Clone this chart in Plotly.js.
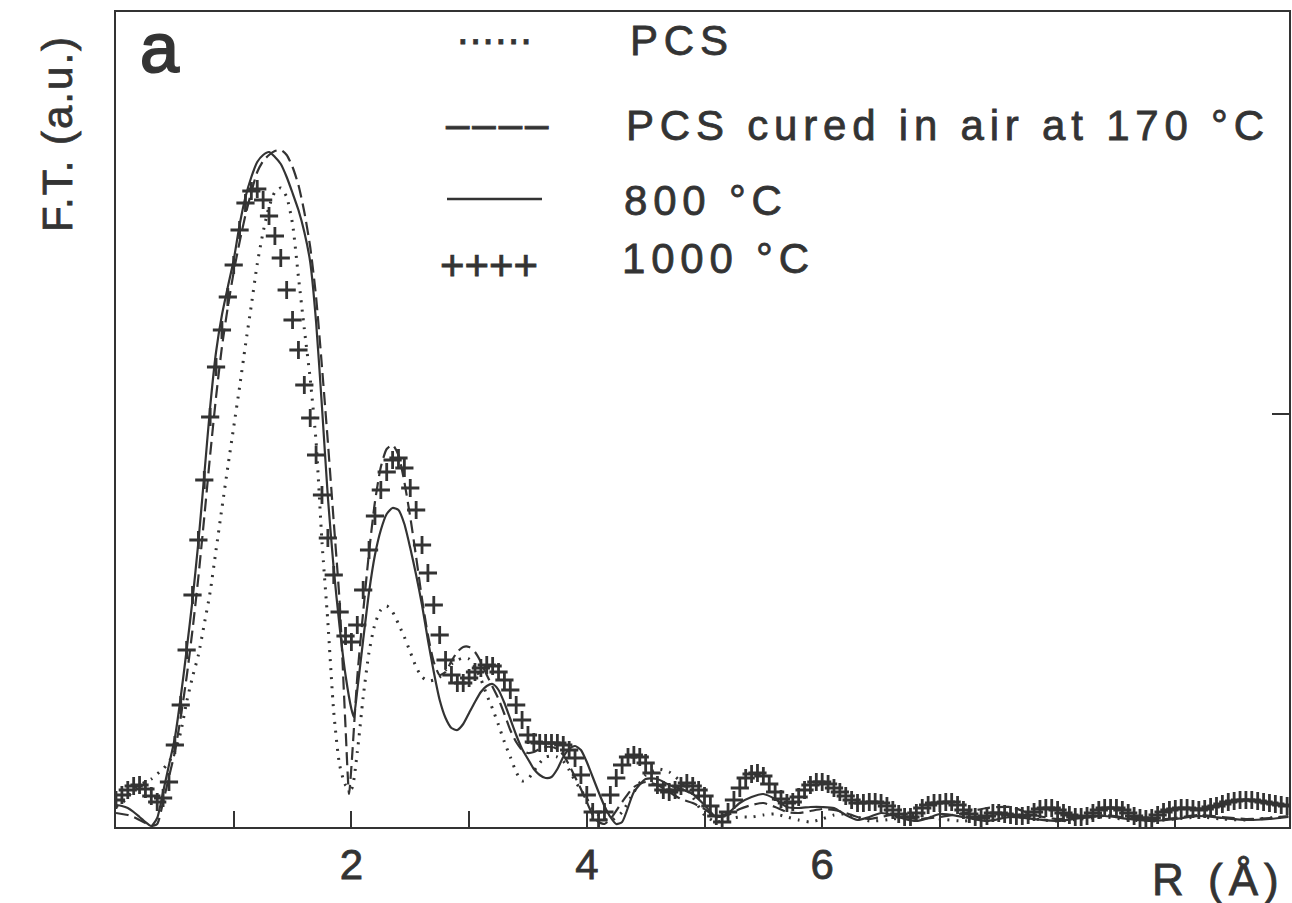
<!DOCTYPE html>
<html><head><meta charset="utf-8">
<script src="https://cdn.plot.ly/plotly-3.0.1.min.js"></script>
<style>
html,body{margin:0;padding:0;background:#fff;}
#chart{width:1292px;height:903px;}
.annotation-text, .xtick text{stroke:#353535; stroke-width:0.8px;}
.annotation[data-index="0"] .annotation-text{stroke-width:2px;}
.annotation[data-index="1"] .annotation-text,
.annotation[data-index="2"] .annotation-text,
.annotation[data-index="3"] .annotation-text,
.annotation[data-index="4"] .annotation-text{letter-spacing:5.8px;}
.annotation[data-index="5"] .annotation-text{letter-spacing:1px;}
.annotation[data-index="6"] .annotation-text{letter-spacing:3px;}
.annotation[data-index="8"] .annotation-text{letter-spacing:2px;}
.annotation[data-index="9"] .annotation-text{letter-spacing:6px;}
</style>
</head><body><div id="chart"></div><script>
// ---- data (R in Angstrom, F.T. magnitude in arbitrary units) ----
const R_PCS = [0,0.05,0.1,0.15,0.2,0.25,0.3,0.35,0.4,0.45,0.5,0.55,0.6,0.65,0.7,0.75,0.8,0.85,0.9,0.95,
 1.0,1.05,1.1,1.15,1.2,1.25,1.3,1.35,1.4,1.45,1.5,1.55,1.6,1.65,1.7,1.75,1.8,1.85,1.9,1.95,
 2.0,2.05,2.1,2.15,2.2,2.25,2.3,2.35,2.4,2.45,2.5,2.55,2.6,2.65,2.7,2.75,2.8,2.85,2.9,2.95,
 3.0,3.05,3.1,3.15,3.2,3.25,3.3,3.35,3.4,3.45,3.5,3.55,3.6,3.65,3.7,3.75,3.8,3.85,3.9,3.95,
 4.0,4.05,4.1,4.15,4.2,4.3,4.4,4.5,4.6,4.7,4.8,4.9,5.0,5.1,5.2,5.3,5.4,5.5,5.6,5.7,5.8,5.9,
 6.0,6.1,6.2,6.3,6.4,6.6,6.8,7.0,7.2,7.4,7.6,7.8,8.0,8.2,8.4,8.6,8.8,9.0,9.2,9.4,9.6,9.8,9.96];
const FT_PCS = [20,24,30,37,42,45,48,53,58,65,76,95,125,150,172,203,235,277,319,360,
 400,440,482,522,563,595,620,635,639,630,603,550,498,448,385,285,205,115,62,42,
 38,75,130,175,203,217,221,215,203,190,175,160,150,146,147,150,157,163,167,169,
 168,160,148,132,118,102,85,70,55,46,48,56,64,70,71,70,66,57,46,37,
 28,18,12,8,6,15,35,52,58,55,45,30,12,5,8,10,10,12,13,10,7,5,
 8,12,13,10,6,8,12,8,6,9,11,8,6,8,10,7,6,8,10,8,7,9,10];

const R_CURED = [0,0.05,0.1,0.15,0.2,0.25,0.3,0.35,0.4,0.45,0.5,0.55,0.6,0.65,0.7,0.75,0.8,0.85,0.9,0.95,
 1.0,1.05,1.1,1.15,1.2,1.25,1.3,1.35,1.4,1.45,1.5,1.55,1.6,1.65,1.7,1.75,1.8,1.85,1.9,1.95,1.98,
 2.0,2.05,2.1,2.15,2.2,2.25,2.3,2.35,2.4,2.45,2.5,2.55,2.6,2.65,2.7,2.75,2.8,2.85,2.9,2.95,
 3.0,3.05,3.1,3.15,3.2,3.25,3.3,3.35,3.4,3.45,3.5,3.55,3.6,3.65,3.7,3.75,3.8,3.85,3.9,3.95,
 4.0,4.05,4.1,4.15,4.2,4.3,4.4,4.5,4.6,4.7,4.8,4.9,5.0,5.1,5.2,5.3,5.4,5.5,5.6,5.7,5.8,5.9,
 6.0,6.1,6.2,6.3,6.4,6.5,6.6,6.7,6.8,7.0,7.2,7.4,7.6,7.8,8.0,8.2,8.4,8.6,8.8,9.0,9.2,9.4,9.6,9.8,9.96];
const FT_CURED = [14,13,12,10,7,4,1,3,25,50,75,110,150,197,250,310,372,430,480,520,
 555,585,612,635,655,666,672,676,677,672,660,642,615,580,530,460,385,305,225,100,33,
 60,150,215,275,325,360,378,382,372,345,310,270,228,192,165,152,155,166,175,180,
 180,175,165,152,140,128,113,97,85,77,74,75,78,80,80,78,72,62,50,38,
 25,12,5,3,8,25,40,45,42,35,28,24,18,10,12,18,22,24,20,15,14,16,
 18,17,14,10,8,10,12,10,8,10,14,19,20,12,8,10,12,9,7,9,12,10,8,9,11];

const R_800 = [0,0.05,0.1,0.15,0.2,0.25,0.3,0.35,0.4,0.45,0.5,0.55,0.6,0.65,0.7,0.75,0.8,0.85,0.9,0.95,
 1.0,1.05,1.1,1.15,1.2,1.25,1.3,1.35,1.4,1.45,1.5,1.55,1.6,1.65,1.7,1.75,1.8,1.85,1.9,1.95,
 2.0,2.02,2.05,2.1,2.15,2.2,2.25,2.3,2.35,2.4,2.45,2.5,2.55,2.6,2.65,2.7,2.75,2.8,2.85,2.9,2.95,
 3.0,3.05,3.1,3.15,3.2,3.25,3.3,3.35,3.4,3.45,3.5,3.55,3.6,3.65,3.7,3.75,3.8,3.85,3.9,3.95,
 4.0,4.05,4.1,4.15,4.2,4.25,4.3,4.4,4.5,4.6,4.7,4.8,4.9,5.0,5.1,5.2,5.3,5.4,5.5,5.6,5.7,5.8,5.9,
 6.0,6.1,6.2,6.3,6.4,6.5,6.6,6.7,6.8,6.9,7.0,7.2,7.4,7.6,7.8,8.0,8.2,8.4,8.6,8.8,9.0,9.2,9.4,9.6,9.8,9.96];
const FT_800 = [22,21,19,15,10,5,1,9,35,62,89,130,177,227,285,352,420,475,512,540,
 567,602,630,650,665,672,675,670,663,650,634,617,595,565,505,420,330,258,200,152,
 118,110,137,187,235,272,297,313,319,317,303,279,252,222,187,155,127,109,99,97,103,
 114,125,135,141,143,137,124,108,92,78,68,58,52,49,50,58,70,78,81,77,
 65,50,35,21,10,3,5,35,48,48,42,38,33,22,10,14,24,30,33,28,20,19,20,
 20,19,12,7,10,14,12,8,6,9,13,10,6,10,8,6,9,11,8,6,8,11,9,7,8,10];

const R_1000 = [0,0.05,0.1,0.15,0.2,0.25,0.3,0.35,0.4,0.45,0.5,0.55,0.6,0.65,0.7,0.75,0.8,0.85,0.9,0.95,
 1.0,1.05,1.1,1.15,1.2,1.25,1.3,1.35,1.4,1.45,1.5,1.55,1.6,1.65,1.7,1.75,1.8,1.85,1.9,1.95,
 2.0,2.05,2.1,2.15,2.2,2.25,2.3,2.35,2.4,2.45,2.5,2.55,2.6,2.65,2.7,2.75,2.8,2.85,2.9,2.95,
 3.0,3.05,3.1,3.15,3.2,3.25,3.3,3.35,3.4,3.45,3.5,3.55,3.6,3.65,3.7,3.75,3.8,3.85,3.9,3.95,
 4.0,4.05,4.1,4.15,4.2,4.25,4.3,4.35,4.4,4.45,4.5,4.55,4.6,4.65,4.7,4.75,4.8,4.85,4.9,4.95,
 5.0,5.05,5.1,5.15,5.2,5.25,5.3,5.35,5.4,5.45,5.5,5.55,5.6,5.65,5.7,5.75,5.8,5.85,5.9,5.95,
 6.0,6.05,6.1,6.15,6.2,6.25,6.3,6.35,6.4,6.45,6.5,6.55,6.6,6.65,6.7,6.75,6.8,6.85,6.9,6.95,
 7.0,7.05,7.1,7.15,7.2,7.25,7.3,7.35,7.4,7.45,7.5,7.55,7.6,7.65,7.7,7.75,7.8,7.85,7.9,7.95,
 8.0,8.05,8.1,8.15,8.2,8.25,8.3,8.35,8.4,8.45,8.5,8.55,8.6,8.65,8.7,8.75,8.8,8.85,8.9,8.95,
 9.0,9.05,9.1,9.15,9.2,9.25,9.3,9.35,9.4,9.45,9.5,9.55,9.6,9.65,9.7,9.75,9.8,9.85,9.9,9.95];
const FT_1000 = [27,32,37,41,42,38,31,25,29,45,82,122,177,232,287,347,410,460,497,530,
 562,597,624,636,638,627,611,591,569,537,507,477,442,409,372,332,289,252,215,191,
 185,202,237,277,311,337,355,367,369,359,339,317,282,254,222,192,167,152,144,144,
 149,155,159,162,161,155,147,137,122,107,92,85,84,84,84,84,82,77,69,52,
 32,15,7,15,32,49,62,70,72,70,64,54,42,37,35,37,41,44,41,37,
 31,21,11,5,15,27,39,49,53,54,51,43,35,28,24,25,30,37,42,45,
 45,43,39,35,31,27,24,24,25,25,24,21,17,13,10,10,14,19,22,24,
 24,25,25,22,17,13,10,9,11,14,14,13,12,11,11,12,15,18,19,19,
 17,14,12,10,10,11,14,17,19,19,19,17,14,11,9,8,9,12,15,17,
 18,19,19,18,17,18,20,21,23,25,26,27,27,27,26,25,24,23,22,21];

const X_TICKS = [1,2,3,4,5,6,7,8,9];
const X_TICK_TEXT = ['','2','','4','','6','','',''];
const Y_TICKS = [413];
const LEGEND_LABELS = ['PCS','PCS cured in air at 170 °C','800 °C','1000 °C'];
const LEGEND_SAMPLES = ['......','––––','++++'];
const PANEL_LABEL = 'a';
const Y_TITLE = 'F.T. (a.u.)';
const X_TITLE = 'R (Å)';

// ---- layout helpers (pixel -> paper) ----
const L=116, R=1289, T=12, B=827, W=1292, H=903;
const px = v => (v - L) / (R - L);
const py = v => (B - v) / (B - T);
const INK = '#333333';
const FONT = 'Liberation Sans, Arial, Helvetica, sans-serif';

const traces = [
 {x:R_PCS, y:FT_PCS, mode:'lines', line:{color:INK, width:3, dash:'2px,7px', shape:'spline', smoothing:0.6}, hoverinfo:'skip'},
 {x:R_CURED, y:FT_CURED, mode:'lines', line:{color:INK, width:2.2, dash:'13px,6px', shape:'spline', smoothing:0.6}, hoverinfo:'skip'},
 {x:R_800, y:FT_800, mode:'lines', line:{color:INK, width:2.2, shape:'spline', smoothing:0.6}, hoverinfo:'skip'},
 {x:R_1000, y:FT_1000, mode:'markers', marker:{symbol:'cross-thin', size:13, line:{color:INK, width:2.8}}, hoverinfo:'skip'}
];

function ann(text, x, y, size, opts){
  return Object.assign({text:text, xref:'paper', yref:'paper', x:px(x), y:py(y),
    xanchor:'left', yanchor:'middle', align:'left', showarrow:false,
    font:{family:FONT, size:size, color:INK}}, opts||{});
}

const annotations = [
  ann(PANEL_LABEL, 138, 48, 70),
  ann(LEGEND_LABELS[0], 628, 40, 42),
  ann(LEGEND_LABELS[1], 624, 126, 42),
  ann(LEGEND_LABELS[2], 622, 200, 42),
  ann(LEGEND_LABELS[3], 620, 258, 42),
  ann(LEGEND_SAMPLES[0], 455, 30, 42),
  ann(LEGEND_SAMPLES[1], 444, 124, 42),
  ann(LEGEND_SAMPLES[2], 438, 265, 42),
  ann(Y_TITLE, 57, 134, 42, {xanchor:'center', align:'center', textangle:-90}),
  ann(X_TITLE, 1218, 879, 44, {xanchor:'center', align:'center'})
];

const layout = {
  width:W, height:H,
  margin:{l:L, r:W-R, t:T, b:H-B, pad:0},
  paper_bgcolor:'#ffffff', plot_bgcolor:'#ffffff',
  showlegend:false,
  xaxis:{range:[0,9.966], showgrid:false, zeroline:false, showline:true, mirror:true,
    linecolor:INK, linewidth:2, ticks:'inside', ticklen:16, tickwidth:2, tickcolor:INK,
    tickvals:X_TICKS, ticktext:X_TICK_TEXT, tickfont:{family:FONT, size:42, color:INK}},
  yaxis:{range:[0,815], side:'right', showgrid:false, zeroline:false, showline:true, mirror:true,
    linecolor:INK, linewidth:2, ticks:'inside', ticklen:17, tickwidth:2, tickcolor:INK,
    tickvals:Y_TICKS, showticklabels:false},
  annotations:annotations,
  shapes:[{type:'line', xref:'paper', yref:'paper', x0:px(447), x1:px(542), y0:py(199), y1:py(199),
    line:{color:INK, width:2.5}}]
};

Plotly.newPlot('chart', traces, layout, {staticPlot:true, displayModeBar:false});
</script></body></html>
